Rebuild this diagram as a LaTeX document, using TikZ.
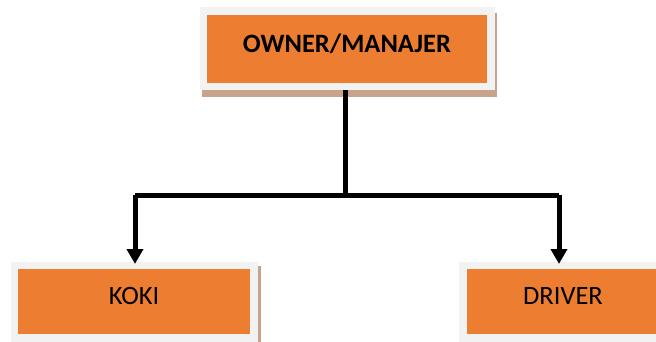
\documentclass[tikz,border=0pt]{standalone}
\usepackage{fontspec}
\setmainfont{Carlito}
\usetikzlibrary{arrows.meta,backgrounds,calc}
\definecolor{boxorange}{HTML}{ED7D31}
\definecolor{boxrim}{HTML}{F2F2F2}
\definecolor{boxshadow}{HTML}{C8A38C}
\tikzset{
  orgbox/.style={rectangle, fill=boxorange, draw=boxrim, line width=7.5pt,
    inner sep=0pt, text depth=11pt, font=\fontsize{26.5}{31}\selectfont},
  conn/.style={line width=5pt, draw=black},
  tip/.style={-{Triangle[width=16pt,length=15pt]}, shorten >=-2.5pt}
}
\begin{document}
\begin{tikzpicture}[x=1pt,y=-1pt]
\useasboundingbox (0,0) rectangle (656,342);
\node[orgbox, minimum width=287.5pt, minimum height=75.5pt,
  font=\fontsize{26.5}{31}\selectfont\bfseries] (own) at (347,49) {OWNER/MANAJER};
\node[orgbox, minimum width=239.5pt, minimum height=72.5pt] (koki) at (134,301.5) {KOKI};
\node[orgbox, minimum width=200pt, minimum height=72.5pt] (drv) at (563,301.5) {DRIVER};
\begin{scope}[on background layer]
  \fill[boxshadow] ($(own.south west)+(2,7)$) rectangle ($(own.north east)+(2,6)$);
  \fill[boxshadow] ($(koki.south west)+(3,6)$) rectangle ($(koki.north east)+(3,4)$);
  \fill[boxshadow] ($(drv.south west)+(3,6)$) rectangle ($(drv.north east)+(3,4)$);
\end{scope}
\coordinate (j) at (345,195);
\coordinate (jl) at (135,195);
\coordinate (jr) at (559,195);
\draw[conn] (j |- own.south) -- (j);
\draw[conn] (jl) -- (jr);
\draw[conn, tip] (jl) -- (jl |- koki.north);
\draw[conn, tip] (jr) -- (jr |- drv.north);
\end{tikzpicture}
\end{document}
